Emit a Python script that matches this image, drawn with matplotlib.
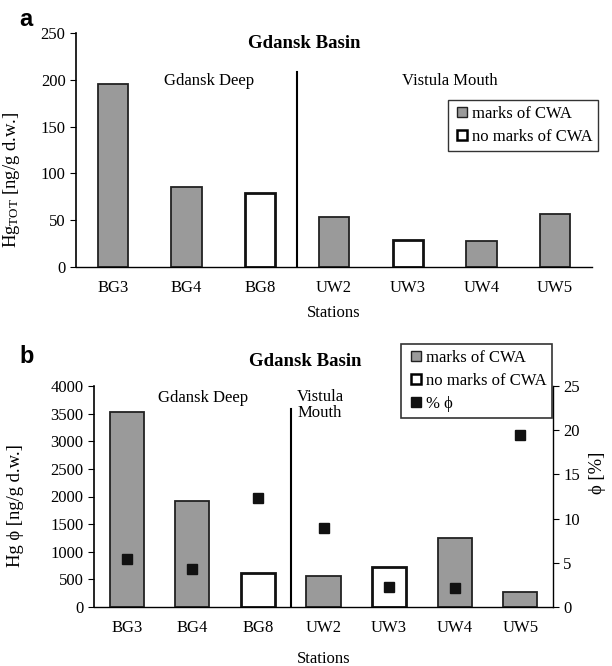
import matplotlib
matplotlib.use("Agg")
import matplotlib.pyplot as plt
from matplotlib.lines import Line2D
import numpy as np

plt.rcParams['font.family'] = ['Liberation Serif', 'DejaVu Serif']
plt.rcParams['mathtext.fontset'] = 'custom'
plt.rcParams['mathtext.rm'] = 'Liberation Serif'
plt.rcParams['mathtext.it'] = 'Liberation Serif:italic'
plt.rcParams['mathtext.bf'] = 'Liberation Serif:bold'

stations = ["BG3", "BG4", "BG8", "UW2", "UW3", "UW4", "UW5"]
cwa_marks = [True, True, False, True, False, True, True]
hg_tot = [196, 86, 79, 53, 29, 28, 57]
hg_phi = [3530, 1925, 610, 560, 730, 1245, 265]
pct_phi = [5.4, 4.3, 12.3, 8.9, 2.3, 2.1, 19.5]

GRAY = "#9a9a9a"
FS = 12
YFS = 13.4
fig = plt.figure(figsize=(6.12, 6.66), dpi=100)

def draw_bars(ax, vals, width):
    x = np.arange(len(stations))
    for xi, v, m in zip(x, vals, cwa_marks):
        if m:
            ax.bar(xi, v, width=width, color=GRAY, edgecolor="#222222", linewidth=1.3)
        else:
            ax.bar(xi, v, width=width, color="white", edgecolor="#111111", linewidth=2.0)
    ax.set_xlim(-0.5, len(stations) - 0.5)
    ax.set_xticks(x)
    ax.set_xticklabels(stations, fontsize=FS)
    ax.tick_params(axis='x', length=0, pad=9)
    ax.tick_params(axis='y', length=4, labelsize=FS, direction='out')
    for s in ["top", "right"]:
        ax.spines[s].set_visible(False)
    ax.spines["left"].set_linewidth(1.2)
    ax.spines["bottom"].set_linewidth(1.0)

def make_legend(ax, handles, labels, anchor, lw):
    lg = ax.legend(handles, labels, loc="upper right", bbox_to_anchor=anchor,
                   fontsize=FS, frameon=True, fancybox=False,
                   handlelength=1.0, handletextpad=0.1, borderpad=0.35,
                   labelspacing=0.42, borderaxespad=0)
    lg.get_frame().set_edgecolor("black")
    lg.get_frame().set_linewidth(lw)
    return lg

# ---------- panel a ----------
axa = fig.add_axes([76/612, 1 - 267/666, 516/612, 234/666])
draw_bars(axa, hg_tot, 0.41)
axa.set_ylim(0, 250)
axa.set_yticks([0, 50, 100, 150, 200, 250])
axa.set_ylabel(r"Hg$_{\mathrm{TOT}}$ [ng/g d.w.]", fontsize=YFS)
axa.yaxis.set_label_coords(-(76 - 22) / 516, 0.372)
axa.set_xlabel("Stations", fontsize=FS, labelpad=7)
axa.plot([2.5, 2.5], [0, 208], color="black", lw=1.5)
axa.text(0.442, 0.955, "Gdansk Basin", transform=axa.transAxes, ha="center", va="center",
         fontsize=13.5, fontweight="bold")
axa.text(1.3, 199, "Gdansk Deep", ha="center", va="center", fontsize=FS)
axa.text(4.57, 199, "Vistula Mouth", ha="center", va="center", fontsize=FS)
ha = [Line2D([], [], ls="none", marker="s", ms=7, mfc=GRAY, mec="#222222", mew=1.0),
      Line2D([], [], ls="none", marker="s", ms=7, mfc="white", mec="black", mew=1.8)]
make_legend(axa, ha, ["marks of CWA", "no marks of CWA"], (1.012, 0.714), 1.0)
fig.text(26/612, 1 - 19/666, "a", fontsize=17, fontweight="bold", family="Liberation Sans",
         va="center", ha="center")

# ---------- panel b ----------
axb = fig.add_axes([94/612, 1 - 607/666, 459/612, 221/666])
draw_bars(axb, hg_phi, 0.52)
axb.set_ylim(0, 4000)
axb.set_yticks(np.arange(0, 4001, 500))
axb.set_ylabel("Hg ϕ [ng/g d.w.]", fontsize=YFS)
axb.yaxis.set_label_coords(-(94 - 24) / 459, 0.46)
axb.set_xlabel("Stations", fontsize=FS, labelpad=11)
axb.plot([2.5, 2.5], [0, 3585], color="black", lw=1.5)
axb.text(0.46, 1.11, "Gdansk Basin", transform=axb.transAxes, ha="center", va="center",
         fontsize=13.5, fontweight="bold")
axb.text(1.17, 3780, "Gdansk Deep", ha="center", va="center", fontsize=FS)
axb.text(2.6, 3950, "Vistula\nMouth", ha="left", va="top", fontsize=FS, linespacing=1.0)

axr = axb.twinx()
axr.set_ylim(0, 25)
axr.set_yticks([0, 5, 10, 15, 20, 25])
axr.tick_params(axis='y', length=4, labelsize=FS, direction='out')
axr.plot(np.arange(len(stations)), pct_phi, ls="none", marker="s", ms=6.5,
         color="#111111")
axr.set_ylabel("ϕ [%]", fontsize=YFS)
axr.yaxis.set_label_coords(1 + (589 - 553) / 459, 0.606)
for s in ["top", "left", "bottom"]:
    axr.spines[s].set_visible(False)
axr.spines["right"].set_linewidth(1.0)

hb = [Line2D([], [], ls="none", marker="s", ms=7, mfc=GRAY, mec="#222222", mew=1.0),
      Line2D([], [], ls="none", marker="s", ms=7, mfc="white", mec="black", mew=1.8),
      Line2D([], [], ls="none", marker="s", ms=7, mfc="#111111", mec="#111111")]
make_legend(axr, hb, ["marks of CWA", "no marks of CWA", "% ϕ"], (0.998, 1.19), 1.2)
fig.text(27/612, 1 - 356/666, "b", fontsize=17, fontweight="bold", family="Liberation Sans",
         va="center", ha="center")

fig.savefig("out.png", dpi=100)
